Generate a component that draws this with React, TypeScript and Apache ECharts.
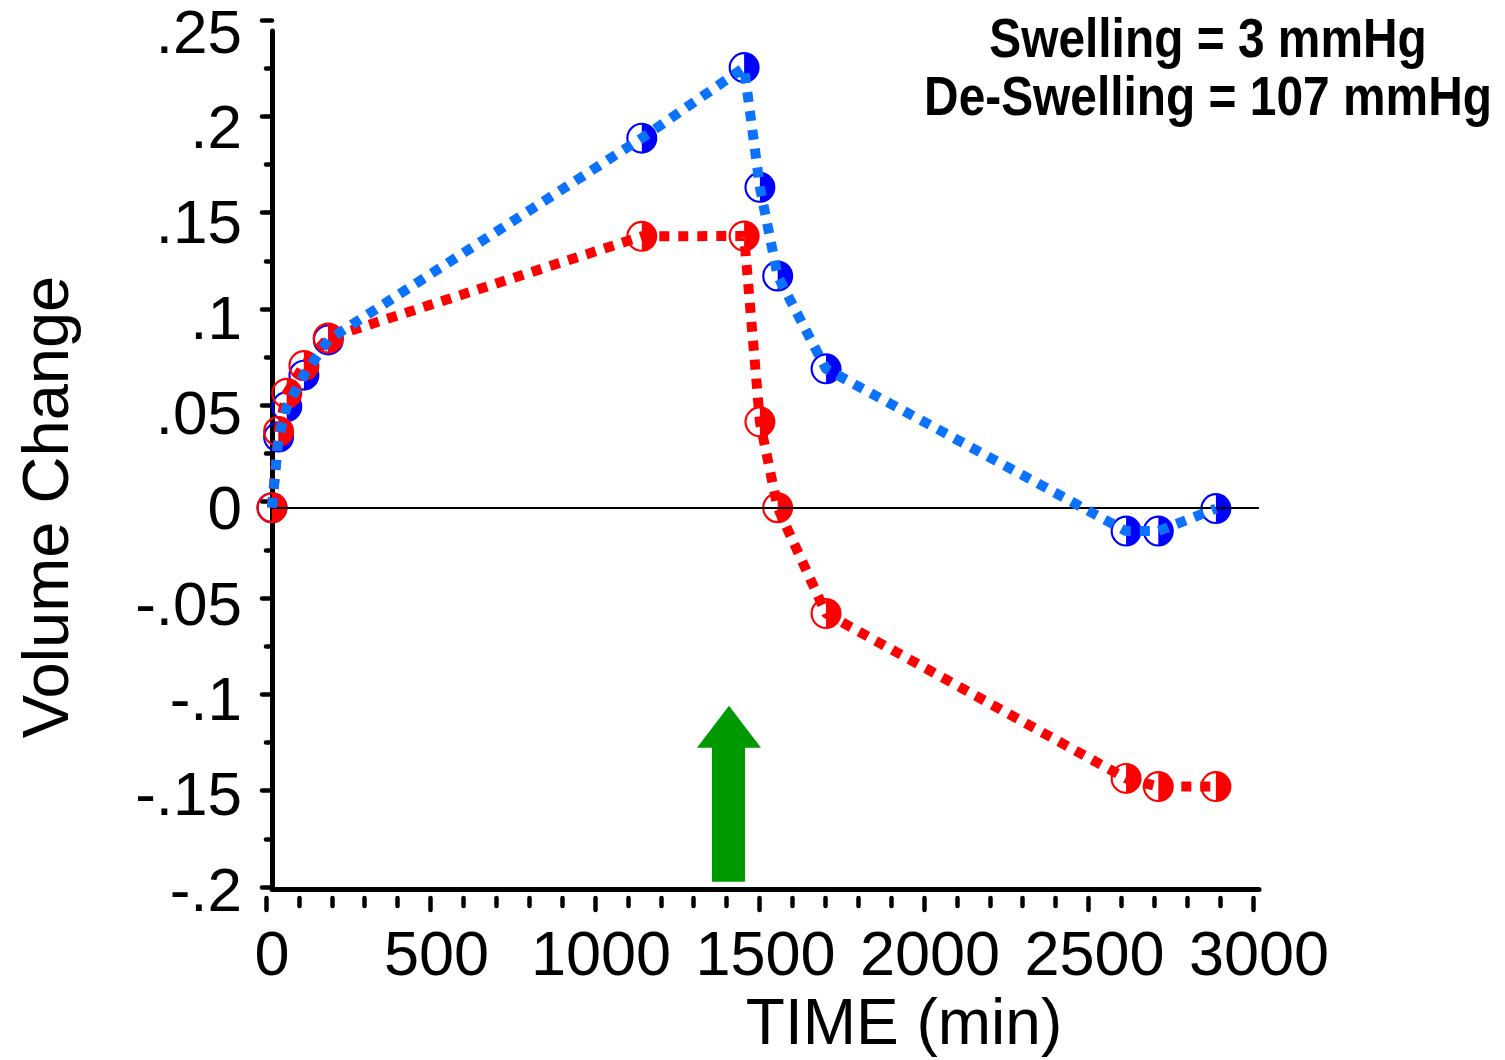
import React, { useEffect, useRef } from "react";
import * as echarts from "echarts";

// Time (min) of each measurement
const times = [0, 20, 45, 97, 171, 1124, 1435, 1483, 1537, 1684, 2596, 2694, 2869];
// Blue series values (volume change)
const blueValues = [0, 0.037, 0.053, 0.0695, 0.088, 0.1938, 0.2308, 0.168, 0.1215, 0.0728, -0.0123, -0.0123, -0.0005];
// Red series values (volume change)
const redValues = [0, 0.04, 0.06, 0.0745, 0.089, 0.1423, 0.1425, 0.045, 0, -0.0555, -0.142, -0.1463, -0.1463];

const xMin = 0;
const xMax = 3000;
const xStep = 500;
const xTickLabels = ["0", "500", "1000", "1500", "2000", "2500", "3000"];
const yMin = -0.2;
const yMax = 0.25;
const yStep = 0.05;
const yTickLabels = ["-.2", "-.15", "-.1", "-.05", "0", ".05", ".1", ".15", ".2", ".25"];

const titleLines = ["Swelling = 3 mmHg", "De-Swelling = 107 mmHg"];
const xTitle = "TIME (min)";
const yTitle = "Volume Change";
const arrowAt = [1389, -0.15];

const HALF_CIRCLE =
  "path://M50,0 A50,50 0 1,1 50,100 A50,50 0 1,1 50,0 Z M50,7 A43,43 0 0,0 50,93 Z";
const ARROW = "path://M32,0 L64,42 L48,42 L48,176 L15,176 L15,42 L0,42 Z";

const FONT = "'Liberation Sans', Arial, Helvetica, sans-serif";

export default function App() {
  const ref = useRef<HTMLDivElement>(null);

  useEffect(() => {
    if (!ref.current) return;
    const chart = echarts.init(ref.current, null, { renderer: "svg" });

    const bluePairs = times.map((t, i) => [t, blueValues[i]]);
    const redPairs = times.map((t, i) => [t, redValues[i]]);

    const tickStyle = { color: "#000", width: 4.5, cap: "round" as const };

    const option: any = {
      animation: false,
      backgroundColor: "#fff",
      textStyle: { fontFamily: FONT },
      grid: [
        { left: 272, right: 246, top: 22, bottom: 171 },
        { left: 266, right: 252, top: 20, bottom: 173 },
        { left: 272, right: 246, top: 20, bottom: 173 },
      ],
      xAxis: [
        {
          gridIndex: 0,
          type: "value",
          min: xMin,
          max: xMax,
          interval: xStep,
          axisLine: { show: true, onZero: false, lineStyle: { color: "#000", width: 5 } },
          axisTick: { show: false },
          splitLine: { show: false },
          axisLabel: {
            margin: 32,
            fontSize: 63,
            color: "#000",
            fontFamily: FONT,
            formatter: (v: number) => xTickLabels[Math.round((v - xMin) / xStep)] ?? "",
          },
        },
        {
          gridIndex: 1,
          type: "value",
          min: xMin,
          max: xMax,
          interval: xStep,
          offset: 11,
          axisLine: { show: false, onZero: false },
          axisTick: { show: true, length: 12, lineStyle: tickStyle },
          minorTick: { show: true, splitNumber: 5, length: 8, lineStyle: tickStyle },
          splitLine: { show: false },
          axisLabel: { show: false },
        },
        {
          gridIndex: 2,
          type: "value",
          min: xMin,
          max: xMax,
          show: false,
        },
      ],
      yAxis: [
        {
          gridIndex: 0,
          type: "value",
          min: yMin,
          max: yMax,
          interval: yStep,
          axisLine: { show: true, onZero: false, lineStyle: { color: "#000", width: 5 } },
          axisTick: { show: false },
          splitLine: { show: false },
          axisLabel: {
            margin: 30,
            fontSize: 62,
            color: "#000",
            fontFamily: FONT,
            padding: [14, 0, 0, 0],
            formatter: (v: number) => yTickLabels[Math.round((v - yMin) / yStep)] ?? "",
          },
        },
        {
          gridIndex: 1,
          type: "value",
          min: yMin,
          max: yMax,
          show: false,
        },
        {
          gridIndex: 2,
          type: "value",
          min: yMin,
          max: yMax,
          interval: yStep,
          axisLine: { show: false, onZero: false },
          axisTick: { show: true, length: 10, lineStyle: tickStyle },
          minorTick: { show: true, splitNumber: 2, length: 6, lineStyle: tickStyle },
          splitLine: { show: false },
          axisLabel: { show: false },
        },
      ],
      series: [
        {
          type: "line",
          xAxisIndex: 0,
          yAxisIndex: 0,
          data: [],
          silent: true,
          z: 1,
          markLine: {
            silent: true,
            symbol: "none",
            label: { show: false },
            lineStyle: { color: "#000", width: 2, type: "solid", opacity: 1 },
            data: [{ yAxis: 0 }],
          },
          markPoint: {
            silent: true,
            symbol: ARROW,
            symbolSize: [64, 176],
            itemStyle: { color: "#009a00", opacity: 1 },
            label: { show: false },
            data: [{ coord: arrowAt }],
          },
        },
        {
          type: "scatter",
          name: "blue markers",
          xAxisIndex: 0,
          yAxisIndex: 0,
          data: bluePairs,
          symbol: HALF_CIRCLE,
          symbolSize: 31,
          itemStyle: { color: "#0000ff", opacity: 1 },
          z: 2,
          silent: true,
        },
        {
          type: "scatter",
          name: "red markers",
          xAxisIndex: 0,
          yAxisIndex: 0,
          data: redPairs,
          symbol: HALF_CIRCLE,
          symbolSize: 31,
          itemStyle: { color: "#ff0000", opacity: 1 },
          z: 3,
          silent: true,
        },
        {
          type: "line",
          name: "red line",
          xAxisIndex: 0,
          yAxisIndex: 0,
          data: redPairs,
          showSymbol: false,
          symbol: "none",
          clip: false,
          lineStyle: { color: "#ff0000", width: 10, type: [10, 9], cap: "butt", opacity: 1 },
          z: 4,
          silent: true,
        },
        {
          type: "line",
          name: "blue line",
          xAxisIndex: 0,
          yAxisIndex: 0,
          data: bluePairs,
          showSymbol: false,
          symbol: "none",
          clip: false,
          lineStyle: { color: "#0a72ff", width: 10, type: [10, 9], cap: "butt", opacity: 1 },
          z: 5,
          silent: true,
        },
      ],
      graphic: [
        {
          type: "text",
          x: 1208,
          y: 38,
          scaleX: 0.855,
          style: {
            text: titleLines[0],
            font: `bold 56px ${FONT}`,
            fill: "#000",
            textAlign: "center",
            textVerticalAlign: "middle",
          },
        },
        {
          type: "text",
          x: 1208,
          y: 96,
          scaleX: 0.855,
          style: {
            text: titleLines[1],
            font: `bold 56px ${FONT}`,
            fill: "#000",
            textAlign: "center",
            textVerticalAlign: "middle",
          },
        },
        {
          type: "text",
          x: 904,
          y: 1022,
          style: {
            text: xTitle,
            font: `64px ${FONT}`,
            fill: "#000",
            textAlign: "center",
            textVerticalAlign: "middle",
          },
        },
        {
          type: "text",
          x: 45,
          y: 507,
          rotation: Math.PI / 2,
          style: {
            text: yTitle,
            font: `65px ${FONT}`,
            fill: "#000",
            textAlign: "center",
            textVerticalAlign: "middle",
          },
        },
      ],
    };

    chart.setOption(option);
    return () => chart.dispose();
  }, []);

  return (
    <div
      ref={ref}
      style={{ position: "absolute", left: 0, top: 0, width: 1505, height: 1060 }}
    />
  );
}
